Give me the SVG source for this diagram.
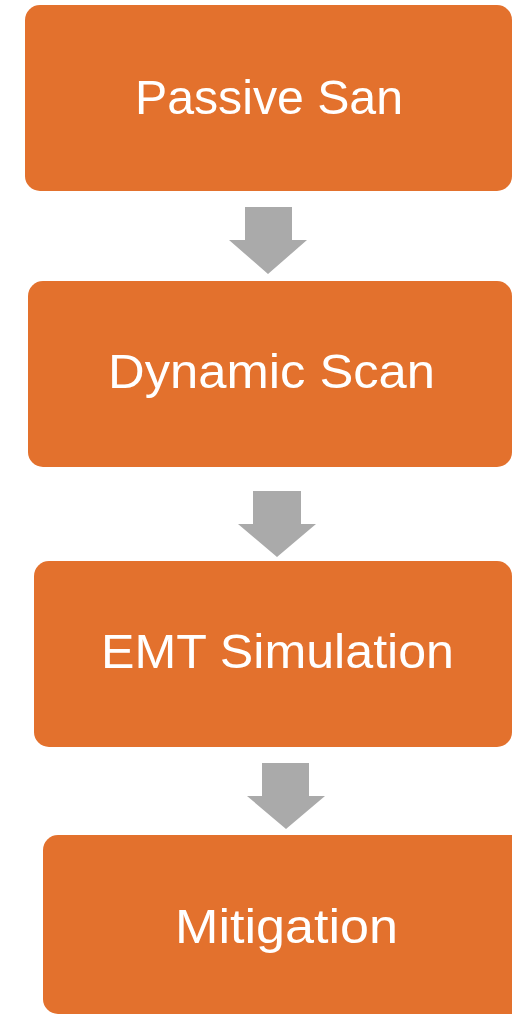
<svg xmlns="http://www.w3.org/2000/svg" width="512" height="1014" viewBox="0 0 512 1014">
<style>
.box{fill:#E3712D;}
.lbl{font-family:"Liberation Sans",Arial,sans-serif;font-size:48px;fill:#FFFFFF;text-anchor:middle;}
.arr{fill:#AAAAAA;}
</style>
<rect width="512" height="1014" fill="#FFFFFF"/>
<g id="connectors">
<polygon class="arr" points="245,207 292,207 292,240 307,240 268,274 229,240 245,240"/>
<polygon class="arr" points="253,491 301,491 301,524 316,524 277,557 238,524 253,524"/>
<polygon class="arr" points="262,763 309,763 309,796 325,796 286,829 247,796 262,796"/>
</g>
<g id="node1">
<rect class="box" x="25" y="5" width="487" height="186" rx="15"/>
<text class="lbl" x="269" y="114" textLength="268" lengthAdjust="spacingAndGlyphs">Passive San</text>
</g>
<g id="node2">
<rect class="box" x="28" y="281" width="484" height="186" rx="15"/>
<text class="lbl" x="271.5" y="388" textLength="327" lengthAdjust="spacingAndGlyphs">Dynamic Scan</text>
</g>
<g id="node3">
<rect class="box" x="34" y="561" width="478" height="186" rx="15"/>
<text class="lbl" x="277.5" y="668" textLength="353" lengthAdjust="spacingAndGlyphs">EMT Simulation</text>
</g>
<g id="node4">
<rect class="box" x="43" y="835" width="505" height="179" rx="15"/>
<text class="lbl" x="286.5" y="943" textLength="223" lengthAdjust="spacingAndGlyphs">Mitigation</text>
</g>
</svg>
